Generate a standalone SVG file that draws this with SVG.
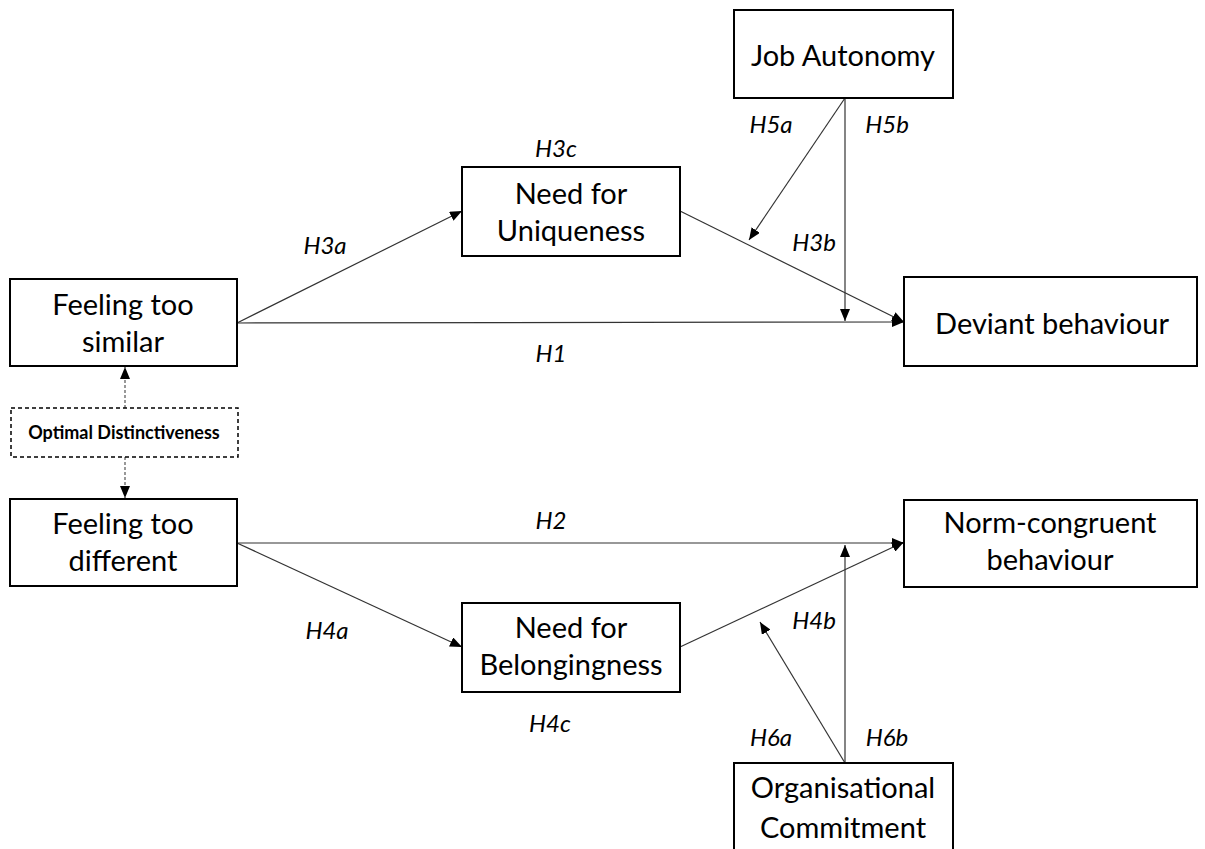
<svg xmlns="http://www.w3.org/2000/svg" width="1205" height="849" viewBox="0 0 1205 849">
<style>
.box{fill:#fff;stroke:#000;stroke-width:2}
.dbox{fill:#fff;stroke:#000;stroke-width:1.5;stroke-dasharray:4 3}
.t{font-family:Lato,"Open Sans",sans-serif;font-size:29px;fill:#000;text-anchor:middle}
.lb{font-family:Lato,"Open Sans",sans-serif;font-size:24px;font-style:italic;fill:#000;text-anchor:middle}
.ob{font-family:Lato,"Open Sans",sans-serif;font-size:18px;font-weight:bold;fill:#000;text-anchor:middle}
.c{stroke:#333;stroke-width:1.2;fill:none;marker-end:url(#ah)}
.d{stroke:#555;stroke-width:1.2;fill:none;stroke-dasharray:3 2;marker-end:url(#ah)}
</style>
<defs>
<marker id="ah" viewBox="0 0 12 10" refX="12" refY="5" markerWidth="12" markerHeight="10" markerUnits="userSpaceOnUse" orient="auto">
<path d="M0,0 L12,5 L0,10 Z" fill="#000"/>
</marker>
</defs>
<rect width="1205" height="849" fill="#fff"/>
<g id="connectors">
<line class="c" x1="237" y1="323" x2="462" y2="211"/>
<line class="c" x1="237" y1="323" x2="904" y2="322"/>
<line class="c" x1="680" y1="211" x2="904" y2="322"/>
<line class="c" x1="845" y1="98" x2="749" y2="240"/>
<line class="c" x1="845" y1="98" x2="845" y2="321"/>
<line class="c" x1="237" y1="543" x2="904" y2="543"/>
<line class="c" x1="237" y1="543" x2="462" y2="647"/>
<line class="c" x1="680" y1="647" x2="904" y2="542"/>
<line class="c" x1="845" y1="763" x2="760" y2="622"/>
<line class="c" x1="845" y1="763" x2="845" y2="545"/>
<line class="d" x1="125" y1="408" x2="125" y2="367"/>
<line class="d" x1="125" y1="457" x2="125" y2="498"/>
</g>
<g id="labels">
<text class="lb" x="556" y="157">H3c</text>
<text class="lb" x="325" y="254">H3a</text>
<text class="lb" x="551" y="362">H1</text>
<text class="lb" x="771" y="133">H5a</text>
<text class="lb" x="887" y="133">H5b</text>
<text class="lb" x="814" y="251">H3b</text>
<text class="lb" x="551" y="529">H2</text>
<text class="lb" x="327" y="639">H4a</text>
<text class="lb" x="814" y="629">H4b</text>
<text class="lb" x="550" y="732">H4c</text>
<text class="lb" x="771" y="746">H6a</text>
<text class="lb" x="887" y="746">H6b</text>
</g>
<g id="job-autonomy">
<rect class="box" x="734" y="10" width="219" height="88"/>
<text class="t" x="843" y="66">Job Autonomy</text>
</g>
<g id="need-uniqueness">
<rect class="box" x="462" y="167" width="218" height="89"/>
<text class="t" x="571" y="204">Need for</text>
<text class="t" x="571" y="241">Uniqueness</text>
</g>
<g id="feeling-similar">
<rect class="box" x="10" y="279" width="227" height="87"/>
<text class="t" x="123" y="315">Feeling too</text>
<text class="t" x="123" y="352">similar</text>
</g>
<g id="deviant">
<rect class="box" x="904" y="277" width="293" height="89"/>
<text class="t" x="1052" y="334">Deviant behaviour</text>
</g>
<g id="optimal">
<rect class="dbox" x="11" y="408" width="227" height="49"/>
<text class="ob" x="124" y="439">Optimal Distinctiveness</text>
</g>
<g id="feeling-different">
<rect class="box" x="10" y="499" width="227" height="87"/>
<text class="t" x="123" y="534">Feeling too</text>
<text class="t" x="123" y="571">different</text>
</g>
<g id="norm-congruent">
<rect class="box" x="904" y="500" width="293" height="87"/>
<text class="t" x="1050" y="533">Norm-congruent</text>
<text class="t" x="1050" y="570">behaviour</text>
</g>
<g id="need-belongingness">
<rect class="box" x="462" y="603" width="218" height="89"/>
<text class="t" x="571" y="638">Need for</text>
<text class="t" x="571" y="675">Belongingness</text>
</g>
<g id="org-commitment">
<rect class="box" x="734" y="763" width="219" height="95"/>
<text class="t" x="843" y="798">Organisational</text>
<text class="t" x="843" y="838">Commitment</text>
</g>
</svg>
